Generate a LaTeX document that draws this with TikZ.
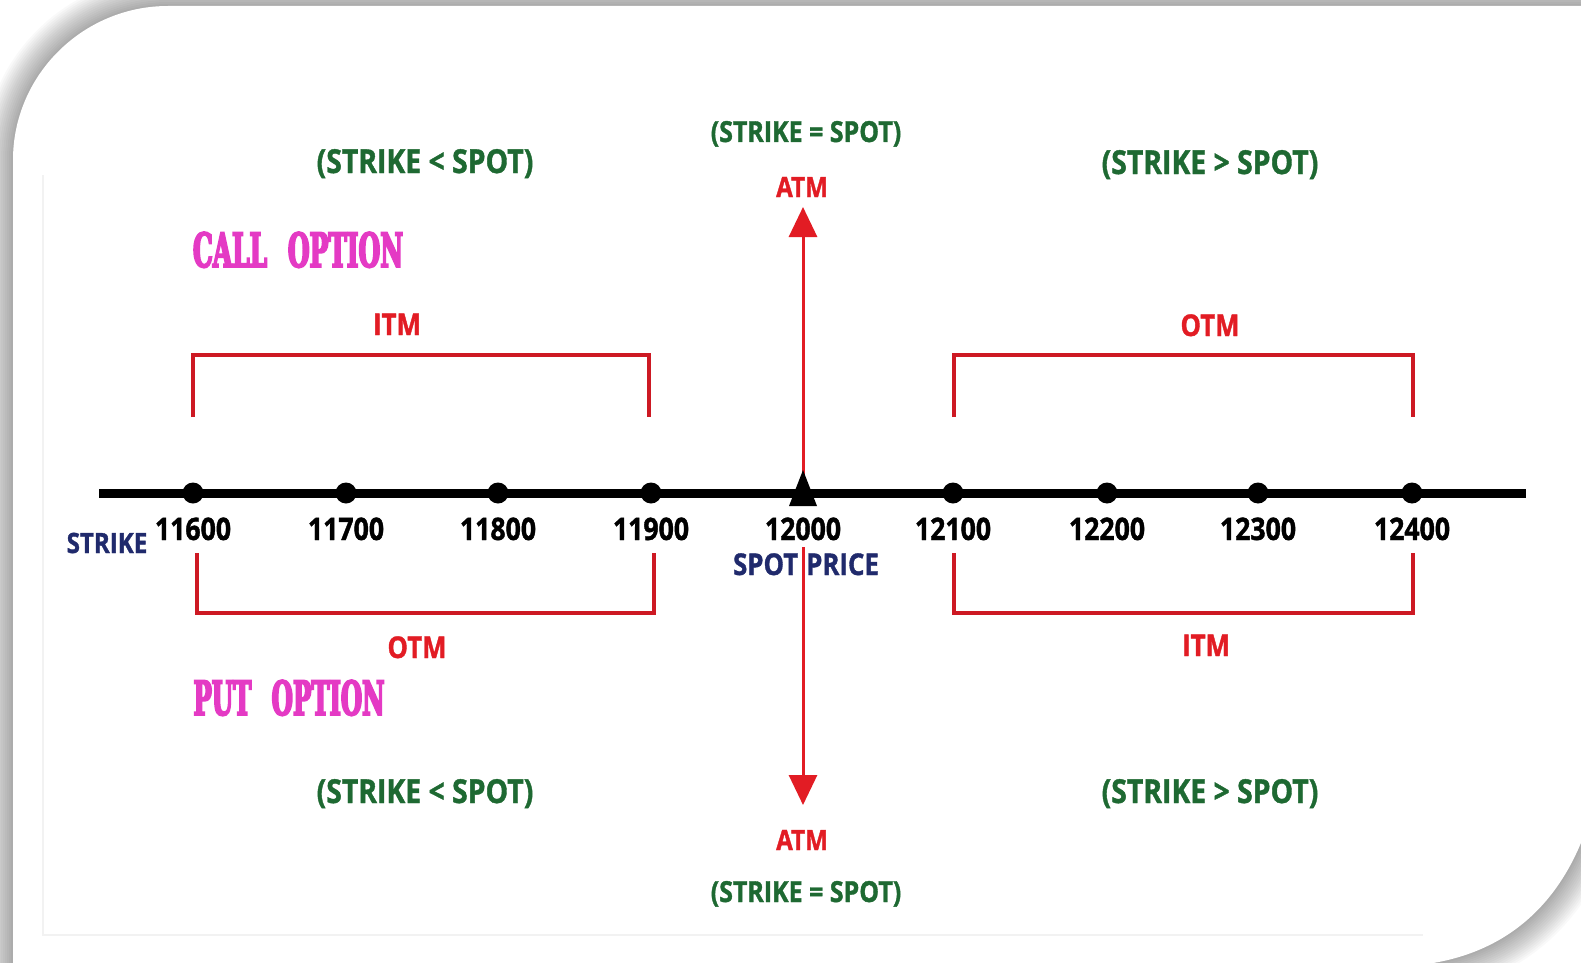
\documentclass[tikz,border=0pt]{standalone}
\usepackage{fontspec}
\usepackage{graphicx}
\usetikzlibrary{arrows.meta}
\newfontfamily\labfont[FakeStretch=0.86,FakeBold=1.2]{Open Sans}
\newfontfamily\slabfont[FakeStretch=0.6,FakeBold=4]{DejaVu Serif}
\definecolor{cgreen}{RGB}{30,105,50}
\definecolor{cred}{RGB}{226,28,36}
\definecolor{bred}{RGB}{205,25,35}
\definecolor{cmag}{RGB}{228,58,196}
\definecolor{cnavy}{RGB}{32,42,108}
\tikzset{
  txt/.style={anchor=base, inner sep=0pt, font=\labfont\bfseries\fontsize{#1}{#1}\selectfont},
  greenlab/.style={txt=33, cgreen},
  eqlab/.style={txt=29, cgreen},
  atmlab/.style={txt=28, cred},
  zonelab/.style={txt=30, cred},
  numlab/.style={txt=31, black},
  navylab/.style={txt=28, cnavy},
  optlab/.style={anchor=base, inner sep=0pt, cmag},
  dotnode/.style={circle, fill=black, inner sep=0pt, minimum size=21pt},
  bracket/.style={bred, line width=4pt, line join=miter},
  redarrow/.style={cred, line width=3pt, -{Triangle[length=30pt,width=28pt]}},
}
\begin{document}
\begin{tikzpicture}[x=1pt,y=-1pt]
\useasboundingbox (0,0) rectangle (1581,963);
\fill[white] (0,0) rectangle (1581,963);
% panel shadow
\foreach \w in {4,8,...,60}{
  \draw[black, opacity=0.022, line width=\w pt, line join=round]
    (13,1040) -- (13,160) .. controls (13,75) and (83,6) .. (168,6) -- (1640,6) -- (1640,780)
    -- (1595,800) .. controls (1570,900) and (1510,950) .. (1433,963) -- (1433,1040) -- cycle;
}
\fill[white]
    (13,1040) -- (13,160) .. controls (13,75) and (83,6) .. (168,6) -- (1640,6) -- (1640,780)
    -- (1595,800) .. controls (1570,900) and (1510,950) .. (1433,963) -- (1433,1040) -- cycle;
\draw[black!5, line width=2pt] (43,175) -- (43,935) -- (1423,935);

% top labels
\node[greenlab] (cl) at (425,173) {(STRIKE < SPOT)};
\node[greenlab] (cr) at (1210,174) {(STRIKE > SPOT)};
\node[eqlab] (eqt) at (806,142) {(STRIKE = SPOT)};
\node[atmlab] (atmt) at (802,197) {ATM};
\node[optlab] (call) at (298,267) {\resizebox{210pt}{35pt}{\slabfont\bfseries CALL\hspace{0.5em}OPTION}};
\node[zonelab] (itmt) at (397,335) {ITM};
\node[zonelab] (otmt) at (1210,336) {OTM};

% upper brackets
\coordinate (ulA) at (193,417); \coordinate (ulB) at (193,355);
\coordinate (ulC) at (649,355); \coordinate (ulD) at (649,417);
\draw[bracket] (ulA) -- (ulB) -- (ulC) -- (ulD);
\coordinate (urA) at (954,417); \coordinate (urB) at (954,355);
\coordinate (urC) at (1413,355); \coordinate (urD) at (1413,417);
\draw[bracket] (urA) -- (urB) -- (urC) -- (urD);

% red arrows
\coordinate (upS) at (803,482); \coordinate (upE) at (803,207);
\draw[redarrow] (upS) -- (upE);
\coordinate (dnS) at (803,547); \coordinate (dnE) at (803,805);
\draw[redarrow] (dnS) -- (dnE);

% axis
\coordinate (axL) at (99,493); \coordinate (axR) at (1526,493);
\draw[line width=9pt] (axL) -- (axR);
\foreach \x/\n/\v in {193/a/11600, 346/b/11700, 498/c/11800, 651/d/11900,
                      953/f/12100, 1107/g/12200, 1258/h/12300, 1412/i/12400}{
  \node[dotnode] (d\n) at (\x,493) {};
  \node[numlab] (n\n) at (\x,540) {\v};
}
\fill (789,506) -- (817,506) -- (803,470) -- cycle;
\node[numlab] (ne) at (803,540) {12000};
\node[navylab] (strike) at (107,553) {STRIKE};
\node[navylab, font=\labfont\bfseries\fontsize{30}{30}\selectfont] (spot) at (806,575) {SPOT\hspace{8pt}PRICE};

% lower brackets
\coordinate (llA) at (197,553); \coordinate (llB) at (197,613);
\coordinate (llC) at (654,613); \coordinate (llD) at (654,553);
\draw[bracket] (llA) -- (llB) -- (llC) -- (llD);
\coordinate (lrA) at (954,553); \coordinate (lrB) at (954,613);
\coordinate (lrC) at (1413,613); \coordinate (lrD) at (1413,553);
\draw[bracket] (lrA) -- (lrB) -- (lrC) -- (lrD);

% bottom labels
\node[zonelab] (otmb) at (417,658) {OTM};
\node[zonelab] (itmb) at (1206,656) {ITM};
\node[optlab] (put) at (289,715) {\resizebox{191pt}{35pt}{\slabfont\bfseries PUT\hspace{0.5em}OPTION}};
\node[greenlab] (bl) at (425,803) {(STRIKE < SPOT)};
\node[greenlab] (br) at (1210,803) {(STRIKE > SPOT)};
\node[atmlab] (atmb) at (802,850) {ATM};
\node[eqlab] (eqb) at (806,902) {(STRIKE = SPOT)};
\end{tikzpicture}
\end{document}
